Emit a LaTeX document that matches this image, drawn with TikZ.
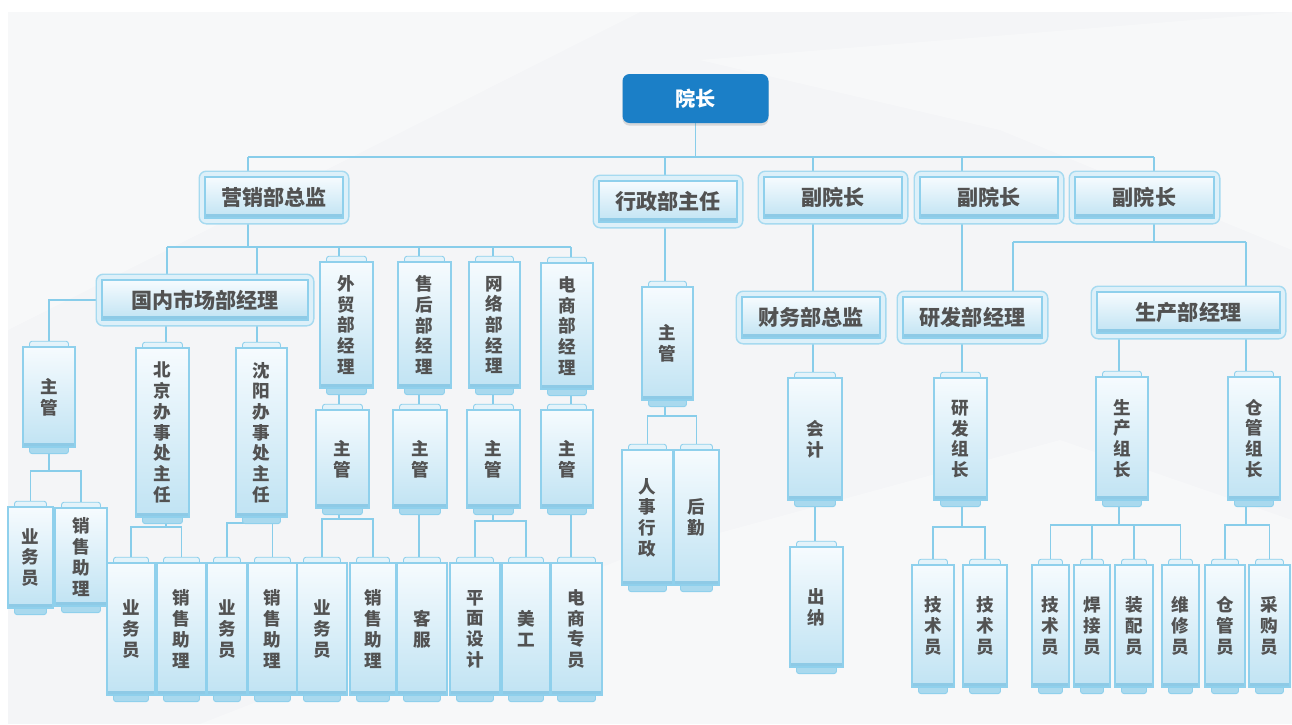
\documentclass[tikz,border=0pt]{standalone}
\usepackage{fontspec}
\setmainfont{Noto Sans CJK SC}
\usetikzlibrary{shadows}

\definecolor{linkblue}{HTML}{88CDEA}
\definecolor{boxedge}{HTML}{8FD0EC}
\definecolor{boxtop}{HTML}{F6FBFE}
\definecolor{boxlow}{HTML}{C0E3F3}
\definecolor{boxband}{HTML}{8ECAE6}
\definecolor{tabtop}{HTML}{E4F3FA}
\definecolor{tablow}{HTML}{A9D9EE}
\definecolor{framefill}{HTML}{DDF0F9}
\definecolor{frameedge}{HTML}{A6DAF0}
\definecolor{headblue}{HTML}{1B7FC7}
\definecolor{txtgrey}{HTML}{525252}
\definecolor{bggrey}{HTML}{F4F5F7}

\pgfdeclarelayer{bg}
\pgfsetlayers{bg,main}

\tikzset{
  link/.style={draw=linkblue, line width=0.7pt},
  wh/.style 2 args={minimum width=#1*0.02cm, minimum height=#2*0.02cm},
  basebox/.style={rectangle, draw=boxedge, line width=0.6pt, top color=boxtop, bottom color=boxlow, text=txtgrey, inner sep=0pt,
    path picture={\fill[boxband] ([yshift=2pt]path picture bounding box.south west) rectangle (path picture bounding box.south east);}},
  hbox/.style={basebox, font=\fontsize{12}{14}\selectfont\bfseries},
  vbox/.style={basebox, align=center, font=\fontsize{10}{11.8}\selectfont\bfseries},
  headbox/.style={rectangle, rounded corners=4pt, fill=headblue, text=white, font=\fontsize{11.5}{14}\selectfont\bfseries,
    drop shadow={shadow xshift=0pt, shadow yshift=-1.5pt, opacity=0.25}},
  tabup/.style={fill=tabtop, draw=boxedge, line width=0.5pt, rounded corners=1.5pt},
  tabdown/.style={fill=tablow, draw=boxedge, line width=0.5pt, rounded corners=1.5pt},
  frame/.style={fill=framefill, draw=frameedge, line width=0.8pt, rounded corners=4pt}
}

\begin{document}
\begin{tikzpicture}[x=0.02cm, y=-0.02cm]
\useasboundingbox (0,0) rectangle (1292,724);

	% head
	\node[headbox, wh={146}{49}] (yz) at (695.5,98.5) {院长};

	% first level
	\node[hbox, wh={138}{41}] (yx) at (274,197.5) {营销部总监};
	\node[hbox, wh={138}{41}] (xz) at (668,201.5) {行政部主任};
	\node[hbox, wh={138}{41}] (f1) at (833,197.5) {副院长};
	\node[hbox, wh={138}{41}] (f2) at (989,197.5) {副院长};
	\node[hbox, wh={139}{41}] (f3) at (1144.5,197.5) {副院长};

	% second level
	\node[hbox, wh={206}{40}] (gn) at (205,300) {国内市场部经理};
	\node[vbox, wh={53}{126}] (wm) at (346.5,325) {外\\贸\\部\\经\\理};
	\node[vbox, wh={53}{126}] (sh) at (424.5,325) {售\\后\\部\\经\\理};
	\node[vbox, wh={51}{126}] (wl) at (494.5,325) {网\\络\\部\\经\\理};
	\node[vbox, wh={52}{126}] (ds) at (567,326) {电\\商\\部\\经\\理};
	\node[vbox, wh={51}{113}] (zg5) at (667.5,343.5) {主\\管};
	\node[hbox, wh={138}{41}] (cw) at (811,317.5) {财务部总监};
	\node[hbox, wh={139}{41}] (yf) at (972.5,317.5) {研发部经理};
	\node[hbox, wh={183}{41}] (sc) at (1188.5,312.5) {生产部经理};

	% third level
	\node[vbox, wh={52}{100}] (zg0) at (49,397) {主\\管};
	\node[vbox, wh={53}{169}] (bj) at (162.5,432.5) {北\\京\\办\\事\\处\\主\\任};
	\node[vbox, wh={51}{169}] (sy) at (261.5,432.5) {沈\\阳\\办\\事\\处\\主\\任};
	\node[vbox, wh={53}{98}] (zg1) at (342.5,459) {主\\管};
	\node[vbox, wh={54}{98}] (zg2) at (420,459) {主\\管};
	\node[vbox, wh={53}{98}] (zg3) at (493.5,459) {主\\管};
	\node[vbox, wh={52}{98}] (zg4) at (567,459) {主\\管};
	\node[vbox, wh={54}{122}] (kj) at (815,439) {会\\计};
	\node[vbox, wh={53}{122}] (zz1) at (960.5,439) {研\\发\\组\\长};
	\node[vbox, wh={52}{123}] (zz2) at (1122,438.5) {生\\产\\组\\长};
	\node[vbox, wh={52}{123}] (zz3) at (1254,438.5) {仓\\管\\组\\长};

	% fourth level
	\node[vbox, wh={45}{101}] (ywy0) at (30.5,557.5) {业\\务\\员};
	\node[vbox, wh={52}{98}] (xs0) at (81,557) {销\\售\\助\\理};
	\node[vbox, wh={48}{132}] (ywy1) at (131,629) {业\\务\\员};
	\node[vbox, wh={49}{132}] (xs1) at (181.5,629) {销\\售\\助\\理};
	\node[vbox, wh={40}{132}] (ywy2) at (227,629) {业\\务\\员};
	\node[vbox, wh={49}{132}] (xs2) at (272.5,629) {销\\售\\助\\理};
	\node[vbox, wh={50}{132}] (ywy3) at (322,629) {业\\务\\员};
	\node[vbox, wh={46}{132}] (xs3) at (373,629) {销\\售\\助\\理};
	\node[vbox, wh={50}{132}] (kf) at (422,629) {客\\服};
	\node[vbox, wh={50}{132}] (pm) at (475,629) {平\\面\\设\\计};
	\node[vbox, wh={48}{132}] (mg) at (526,629) {美\\工};
	\node[vbox, wh={51}{132}] (dz) at (576.5,629) {电\\商\\专\\员};
	\node[vbox, wh={51}{135}] (rs) at (647.5,517.5) {人\\事\\行\\政};
	\node[vbox, wh={45}{135}] (hq) at (696.5,517.5) {后\\勤};
	\node[vbox, wh={53}{120}] (cn) at (816.5,607) {出\\纳};
	\node[vbox, wh={42}{122}] (js1) at (933,626) {技\\术\\员};
	\node[vbox, wh={44}{122}] (js2) at (985,626) {技\\术\\员};
	\node[vbox, wh={37}{122}] (js3) at (1050.5,626) {技\\术\\员};
	\node[vbox, wh={36}{122}] (hj) at (1092,626) {焊\\接\\员};
	\node[vbox, wh={38}{122}] (zp) at (1134,626) {装\\配\\员};
	\node[vbox, wh={37}{122}] (wx) at (1180.5,626) {维\\修\\员};
	\node[vbox, wh={40}{122}] (cg) at (1225,626) {仓\\管\\员};
	\node[vbox, wh={41}{122}] (cgy) at (1269.5,626) {采\\购\\员};

\begin{pgfonlayer}{bg}
	% backdrop
	\fill[white] (0,0) rectangle (1292,724);
	\fill[bggrey] (8,12) rectangle (1292,724);
	\fill[white, opacity=0.35] (8,12) -- (640,12) -- (8,330) -- cycle;
	\fill[white, opacity=0.35] (700,60) -- (1292,12) -- (1292,250) -- (1000,130) -- cycle;
	\fill[white, opacity=0.3] (200,724) -- (620,560) -- (1060,440) -- (1292,520) -- (1292,724) -- cycle;

	% head to first level
	\draw[link] (yz.south) -- (yz.south |- 0,157);
	\draw[link] (248,157) -- (1154,157);
	\foreach \n/\x in {yx/248,xz/665,f1/813,f2/962,f3/1154}
		\draw[link] (\x,157) coordinate (j) -- (j |- \n.north);

	% marketing
	\draw[link] (yx.south -| 248,0) -- (248,247);
	\draw[link] (167,247) -- (571,247);
	\foreach \n/\x in {gn/167,gn/257,wm/339,sh/419,wl/493,ds/571}
		\draw[link] (\x,247) coordinate (j) -- (j |- \n.north);
	\draw[link] (gn.west) -| (zg0.north);
	\foreach \n/\x in {bj/166,sy/257}
		\draw[link] (gn.south -| \x,0) coordinate (j) -- (j |- \n.north);

	% third vice head
	\draw[link] (f3.south -| 1154,0) -- (1154,242);
	\draw[link] (1013,242) -- (1246,242);
	\foreach \n/\x in {yf/1013,sc/1246}
		\draw[link] (\x,242) coordinate (j) -- (j |- \n.north);

	% one to one
	\foreach \a/\b/\x in {wm/zg1/339,sh/zg2/419,wl/zg3/493,ds/zg4/571,zg2/kf/419,zg4/dz/571,
			xz/zg5/665,f1/cw/813,cw/kj/813,kj/cn/815,f2/yf/962,yf/zz1/962,sc/zz2/1119,sc/zz3/1246}
		\draw[link] (\a.south -| \x,0) coordinate (j) -- (j |- \b.north);

	% buses
	\foreach \p/\x/\y in {zg0/49/471,bj/166/527,sy/257/523,zg1/339/519,zg3/493/521,
			zg5/665/416,zz1/962/527,zz2/1119/525,zz3/1246/525}
		\draw[link] (\p.south -| \x,0) -- (\x,\y);
	\foreach \c/\x/\y in {ywy0/49/471,xs0/49/471,ywy1/166/527,xs1/166/527,ywy2/257/523,xs2/257/523,
			ywy3/339/519,xs3/339/519,pm/493/521,mg/493/521,rs/665/416,hq/665/416,
			js1/962/527,js2/962/527,js3/1119/525,hj/1119/525,zp/1119/525,wx/1119/525,
			cg/1246/525,cgy/1246/525}
		\draw[link] (\x,\y) -| (\c.north);

	% tabs of the upright boxes
	\foreach \n in {wm,sh,wl,ds,zg0,bj,sy,zg1,zg2,zg3,zg4,ywy0,xs0,ywy1,xs1,ywy2,xs2,ywy3,xs3,
			kf,pm,mg,dz,zg5,rs,hq,kj,cn,zz1,js1,js2,zz2,zz3,js3,hj,zp,wx,cg,cgy}{
		\draw[tabup] ([xshift=4pt,yshift=-1pt]\n.north west) rectangle ([xshift=-4pt,yshift=3pt]\n.north east);
		\draw[tabdown] ([xshift=4pt,yshift=1pt]\n.south west) rectangle ([xshift=-4pt,yshift=-3.5pt]\n.south east);
	}

	% frames of the wide boxes
	\foreach \n in {yx,xz,f1,f2,f3,gn,cw,yf,sc}
		\draw[frame] ([shift={(-3pt,3pt)}]\n.north west) rectangle ([shift={(3pt,-3pt)}]\n.south east);
\end{pgfonlayer}

\end{tikzpicture}
\end{document}
